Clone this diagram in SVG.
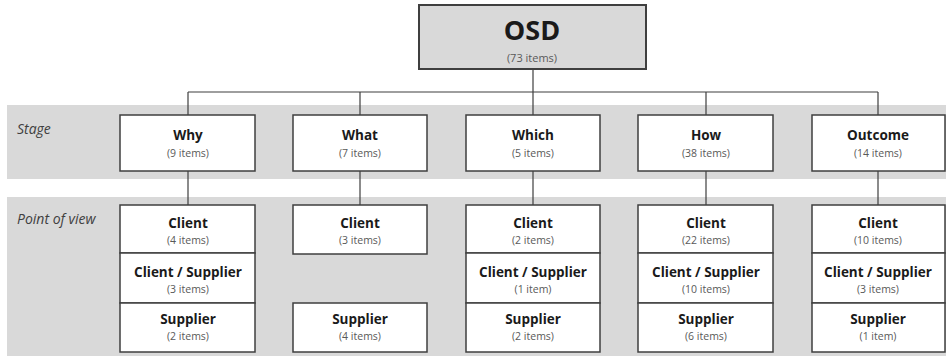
<svg xmlns="http://www.w3.org/2000/svg" width="946" height="356" viewBox="0 0 946 356">
<style>
.band{fill:#d9d9d9}
.box{fill:#ffffff;stroke:#3f3f3f;stroke-width:1.5}
.root{fill:#d9d9d9;stroke:#3f3f3f;stroke-width:2}
.t{font-family:"Open Sans","DejaVu Sans",sans-serif;font-weight:bold;font-size:13.5px;fill:#1a1a1a;text-anchor:middle}
.n{font-family:"Open Sans","DejaVu Sans",sans-serif;font-size:10.5px;fill:#595959;text-anchor:middle}
.lab{font-family:"Open Sans","DejaVu Sans",sans-serif;font-style:italic;font-size:14px;fill:#404040}
.c{stroke:#3f3f3f;stroke-width:1.2;fill:none}
</style>
<rect class="band" x="7" y="105" width="939" height="74"/>
<rect class="band" x="7" y="197" width="939" height="159"/>
<text class="lab" x="17" y="134">Stage</text>
<text class="lab" x="17" y="224">Point of view</text>
<g id="connectors">
<path class="c" d="M533 69V92M188 92H878M188 92V115M360 92V115M533 92V115M706 92V115M878 92V115"/>
<path class="c" d="M188 171V205M360 171V205M533 171V205M706 171V205M878 171V205"/>
</g>
<g id="osd">
<rect class="root" x="419" y="5" width="227" height="64"/>
<text class="t" x="532" y="40" style="font-size:27px">OSD</text>
<text class="n" x="532" y="62" style="font-size:11px">(73 items)</text>
</g>
<g id="why">
<rect class="box" x="120" y="115" width="135" height="56"/>
<text class="t" x="188" y="140">Why</text>
<text class="n" x="188" y="157">(9 items)</text>
</g>
<g id="what">
<rect class="box" x="293" y="115" width="134" height="56"/>
<text class="t" x="360" y="140">What</text>
<text class="n" x="360" y="157">(7 items)</text>
</g>
<g id="which">
<rect class="box" x="466" y="115" width="134" height="56"/>
<text class="t" x="533" y="140">Which</text>
<text class="n" x="533" y="157">(5 items)</text>
</g>
<g id="how">
<rect class="box" x="638" y="115" width="135" height="56"/>
<text class="t" x="706" y="140">How</text>
<text class="n" x="706" y="157">(38 items)</text>
</g>
<g id="outcome">
<rect class="box" x="812" y="115" width="133" height="56"/>
<text class="t" x="878" y="140">Outcome</text>
<text class="n" x="878" y="157">(14 items)</text>
</g>
<g id="why-client">
<rect class="box" x="120" y="205" width="135" height="48"/>
<text class="t" x="188" y="228">Client</text>
<text class="n" x="188" y="244">(4 items)</text>
</g>
<g id="why-cs">
<rect class="box" x="120" y="253" width="135" height="50"/>
<text class="t" x="188" y="277">Client / Supplier</text>
<text class="n" x="188" y="293">(3 items)</text>
</g>
<g id="why-supplier">
<rect class="box" x="120" y="303" width="135" height="49"/>
<text class="t" x="188" y="324">Supplier</text>
<text class="n" x="188" y="340">(2 items)</text>
</g>
<g id="what-client">
<rect class="box" x="293" y="205" width="134" height="49"/>
<text class="t" x="360" y="228">Client</text>
<text class="n" x="360" y="244">(3 items)</text>
</g>
<g id="what-supplier">
<rect class="box" x="293" y="303" width="134" height="49"/>
<text class="t" x="360" y="324">Supplier</text>
<text class="n" x="360" y="340">(4 items)</text>
</g>
<g id="which-client">
<rect class="box" x="466" y="205" width="134" height="48"/>
<text class="t" x="533" y="228">Client</text>
<text class="n" x="533" y="244">(2 items)</text>
</g>
<g id="which-cs">
<rect class="box" x="466" y="253" width="134" height="50"/>
<text class="t" x="533" y="277">Client / Supplier</text>
<text class="n" x="533" y="293">(1 item)</text>
</g>
<g id="which-supplier">
<rect class="box" x="466" y="303" width="134" height="49"/>
<text class="t" x="533" y="324">Supplier</text>
<text class="n" x="533" y="340">(2 items)</text>
</g>
<g id="how-client">
<rect class="box" x="638" y="205" width="135" height="48"/>
<text class="t" x="706" y="228">Client</text>
<text class="n" x="706" y="244">(22 items)</text>
</g>
<g id="how-cs">
<rect class="box" x="638" y="253" width="135" height="50"/>
<text class="t" x="706" y="277">Client / Supplier</text>
<text class="n" x="706" y="293">(10 items)</text>
</g>
<g id="how-supplier">
<rect class="box" x="638" y="303" width="135" height="49"/>
<text class="t" x="706" y="324">Supplier</text>
<text class="n" x="706" y="340">(6 items)</text>
</g>
<g id="outcome-client">
<rect class="box" x="812" y="205" width="133" height="48"/>
<text class="t" x="878" y="228">Client</text>
<text class="n" x="878" y="244">(10 items)</text>
</g>
<g id="outcome-cs">
<rect class="box" x="812" y="253" width="133" height="50"/>
<text class="t" x="878" y="277">Client / Supplier</text>
<text class="n" x="878" y="293">(3 items)</text>
</g>
<g id="outcome-supplier">
<rect class="box" x="812" y="303" width="133" height="49"/>
<text class="t" x="878" y="324">Supplier</text>
<text class="n" x="878" y="340">(1 item)</text>
</g>
</svg>
